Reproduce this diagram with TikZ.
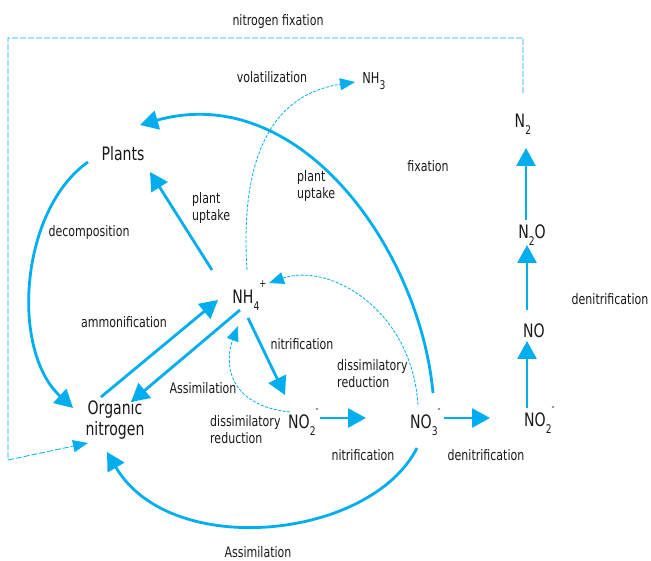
\documentclass[tikz,border=0pt]{standalone}
\usepackage{fontspec}
\setmainfont{DejaVu Sans}[FakeStretch=0.76]
\usepackage{tikz}
\usetikzlibrary{arrows.meta,calc}

\definecolor{nblue}{RGB}{0,174,239}
\definecolor{txt}{RGB}{25,25,25}
\newcommand{\species}[3]{#1\rlap{\raisebox{-0.38em}[0pt][0pt]{\fontsize{12}{12}\selectfont#2}\raisebox{0.9em}[0pt][0pt]{\fontsize{11}{11}\selectfont#3}}}

\begin{document}
\begin{tikzpicture}[x=1pt,y=-1pt,flow/.style={draw=nblue,line width=2.8pt,-{Triangle[length=18pt,width=19pt]}},dashflow/.style={draw=nblue,line width=0.8pt,dash pattern=on 3pt off 1.5pt,-{Triangle[length=15pt,width=12pt]}},lbl/.style={font=\fontsize{14.5}{17}\selectfont,text=txt,inner sep=0pt},spec/.style={font=\fontsize{18.5}{21}\selectfont,text=txt,inner sep=0pt}]
	\useasboundingbox (0,0) rectangle (651,561);
	% species
	\node[spec] (plants) at (123,154) {Plants};
	\node[spec,align=center] (orgn) at (115,420) {Organic\\nitrogen};
	\node[spec] (nh4) at (243,297) {\species{NH}{4}{+}};
	\node[spec] (no2a) at (299,422) {\species{NO}{2}{-}};
	\node[spec] (no3) at (421,422) {\species{NO}{3}{-}};
	\node[spec] (no2b) at (535,420) {\species{NO}{2}{-}};
	\node[spec] (no) at (534,331) {NO};
	\node[spec] (n2o) at (532,232) {N\raisebox{-0.38em}[0pt][0pt]{\fontsize{12}{12}\selectfont 2}O};
	\node[spec] (n2) at (520,121) {\species{N}{2}{}};
	\node[spec,font=\fontsize{15}{17}\selectfont] (nh3) at (371,78) {\species{NH}{3}{}};
	\coordinate (ul) at (8,38);
	\coordinate (ll) at (8,460);
	% labels
	\node[lbl] (lfix) at (278,22) {nitrogen fixation};
	\node[lbl] (lvol) at (272,77) {volatilization};
	\node[lbl] (lfx) at (428,166) {fixation};
	\node[lbl,align=left,anchor=west] (lup2) at (297,186) {plant\\uptake};
	\node[lbl,align=left,anchor=west] (lup1) at (192,208) {plant\\uptake};
	\node[lbl] (ldec) at (89,233) {decomposition};
	\node[lbl] (lamm) at (124,322) {ammonification};
	\node[lbl] (lnit1) at (302,344) {nitrification};
	\node[lbl,align=left,anchor=west] (ldis2) at (337,374) {dissimilatory\\reduction};
	\node[lbl] (lass1) at (203,388) {Assimilation};
	\node[lbl,align=left,anchor=west] (ldis1) at (210,430) {dissimilatory\\reduction};
	\node[lbl] (lnit2) at (363,455) {nitrification};
	\node[lbl] (lden1) at (486,455) {denitrification};
	\node[lbl] (lden2) at (610,299) {denitrification};
	\node[lbl] (lass2) at (258,552) {Assimilation};
	% solid flows
	\draw[flow] ($(plants)+(-35,8)$) .. controls (20,210) and (10,350) .. ($(orgn)+(-42,-12)$);
	\draw[flow] ($(nh4)+(-31,-27)$) -- ($(plants)+(27,18)$);
	\draw[flow] ($(no3)+(12,-29)$) .. controls (420,250) and (300,80) .. ($(plants)+(17,-29)$);
	\draw[flow] ($(orgn)+(-14,-23)$) -- ($(nh4)+(-25,3)$);
	\draw[flow] ($(nh4)+(-3,13)$) -- ($(orgn)+(16,-18)$);
	\draw[flow] ($(nh4)+(5,21)$) -- ($(no2a)+(-14,-27)$);
	\draw[flow] ($(no2a)+(21,-4)$) -- ($(no3)+(-55,-4)$);
	\draw[flow] ($(no3)+(23,-4)$) -- ($(no2b)+(-45,-2)$);
	\draw[flow] ($(no2b)+(-8,-12)$) -- ($(no)+(-7,10)$);
	\draw[flow] ($(no)+(-7,-21)$) -- ($(n2o)+(-5,13)$);
	\draw[flow] ($(n2o)+(-6,-12)$) -- ($(n2)+(6,27)$);
	\draw[flow] ($(no3)+(-4,26)$) .. controls (370,540) and (170,560) .. ($(orgn)+(-8,32)$);
	% dashed flows
	\draw[dashflow] ($(nh4)+(4,-27)$) .. controls (240,160) and (270,95) .. ($(nh3)+(-16,4)$);
	\draw[dashflow] ($(no2a)+(-9,-10)$) .. controls (225,405) and (225,360) .. ($(nh4)+(-5,29)$);
	\draw[dashflow] ($(no3)+(-3,-17)$) .. controls (412,310) and (330,262) .. ($(nh4)+(26,-14)$);
	\draw[dashflow,dash pattern=on 6pt off 2pt] ($(n2)+(3,-28)$) |- (ul) -- (ll) -- ($(orgn)+(-27,23)$);
\end{tikzpicture}
\end{document}
